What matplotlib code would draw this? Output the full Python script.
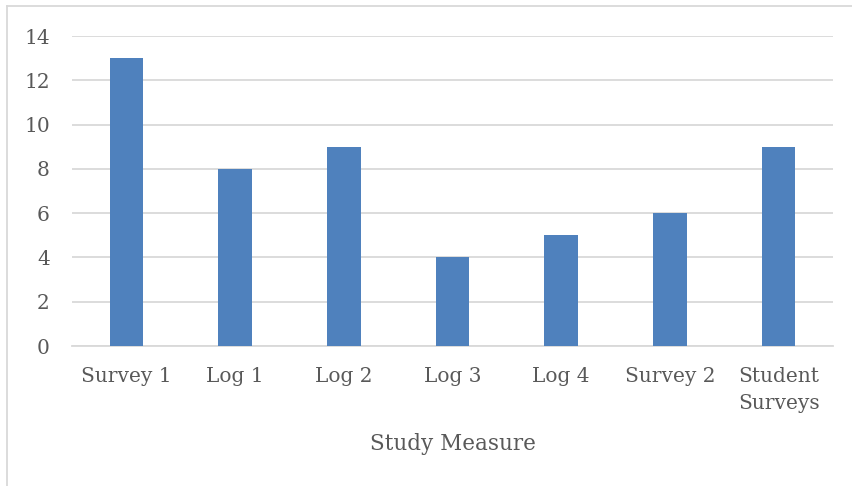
import matplotlib
matplotlib.use("Agg")
import matplotlib.pyplot as plt
from matplotlib.lines import Line2D

categories = ["Survey 1", "Log 1", "Log 2", "Log 3", "Log 4", "Survey 2", "Student\nSurveys"]
counts = [13, 8, 9, 4, 5, 6, 9]
y_ticks = [0, 2, 4, 6, 8, 10, 12, 14]
x_title = "Study Measure"

W, H = 852, 486
fig = plt.figure(figsize=(W / 100, H / 100), dpi=100)
fig.patch.set_facecolor("white")

font = ["DejaVu Serif"]
text_color = "#595959"
grid_color = "#D9D9D9"
bar_color = "#4F81BD"

ax = fig.add_axes([72 / W, 1 - 346 / H, (833 - 72) / W, (346 - 36) / H])
x = range(len(categories))
ax.bar(x, counts, width=0.31, color=bar_color, zorder=3)
ax.set_xlim(-0.5, len(categories) - 0.5)
ax.set_ylim(0, 14)
ax.set_yticks(y_ticks)
ax.set_xticks(list(x))
ax.set_xticklabels(categories, family=font, fontsize=14.5, color=text_color,
                   linespacing=1.55, va="top")
ax.set_yticklabels([str(t) for t in y_ticks], family=font, fontsize=14.5, color=text_color)
ax.tick_params(axis="y", length=0, pad=16)
ax.tick_params(axis="x", length=0, pad=15)
ax.grid(axis="y", color=grid_color, linewidth=1.3, zorder=0)
for side in ["top", "right", "left"]:
    ax.spines[side].set_visible(False)
ax.spines["bottom"].set_color(grid_color)
ax.spines["bottom"].set_linewidth(1.3)
ax.set_xlabel(x_title, family=font, fontsize=15.5, color=text_color, labelpad=14)

# light outer frame along the top and left edges
fig.add_artist(Line2D([6.5 / W, 1], [1 - 6.5 / H, 1 - 6.5 / H], transform=fig.transFigure,
                      color=grid_color, linewidth=1.3))
fig.add_artist(Line2D([6.5 / W, 6.5 / W], [0, 1 - 6.5 / H], transform=fig.transFigure,
                      color=grid_color, linewidth=1.3))

fig.savefig("out.png", dpi=100)
